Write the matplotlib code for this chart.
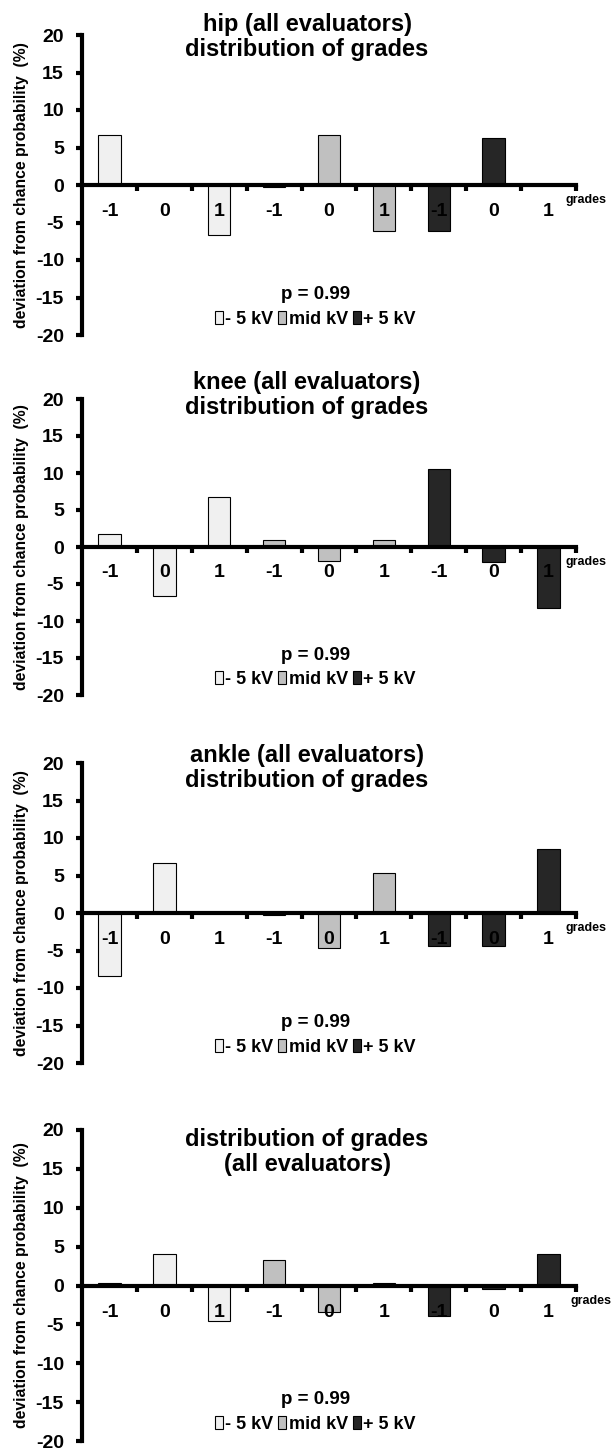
import matplotlib
matplotlib.use("Agg")
import matplotlib.pyplot as plt
import numpy as np

plt.rcParams['font.family'] = ['Liberation Sans', 'DejaVu Sans']
plt.rcParams['font.weight'] = 'bold'

grades = ["-1", "0", "1"]
series = ["- 5 kV", "mid kV", "+ 5 kV"]
colors = ["#f0f0f0", "#c0c0c0", "#262626"]

hip_minus5 = [6.7, 0.0, -6.6]
hip_mid = [-0.3, 6.7, -6.1]
hip_plus5 = [-6.1, 6.3, 0.0]

knee_minus5 = [1.7, -6.6, 6.8]
knee_mid = [1.0, -1.9, 1.0]
knee_plus5 = [10.6, -2.0, -8.3]

ankle_minus5 = [-8.4, 6.7, 0.0]
ankle_mid = [-0.3, -4.7, 5.3]
ankle_plus5 = [-4.4, -4.4, 8.5]

all_minus5 = [0.3, 4.0, -4.6]
all_mid = [3.3, -3.4, 0.3]
all_plus5 = [-3.9, -0.5, 4.0]

titles = ["hip (all evaluators)\ndistribution of grades",
          "knee (all evaluators)\ndistribution of grades",
          "ankle (all evaluators)\ndistribution of grades",
          "distribution of grades\n(all evaluators)"]
panel_data = [[hip_minus5, hip_mid, hip_plus5],
              [knee_minus5, knee_mid, knee_plus5],
              [ankle_minus5, ankle_mid, ankle_plus5],
              [all_minus5, all_mid, all_plus5]]
yticks = [20, 15, 10, 5, 0, -5, -10, -15, -20]
p_text = "p = 0.99"

W, H = 613, 1450
fig = plt.figure(figsize=(W / 100, H / 100), dpi=100)

# (top px, bottom px) of the -20..20 range per panel
panel_px = [(35, 335), (399, 695), (763, 1063), (1130, 1441)]
title_y = [19.7, 20.5, 19.3, 17.2]
grades_x = [8.3, 8.3, 8.3, 8.4]
left_px, right_px = 82, 576

for k, (top, bot) in enumerate(panel_px):
    ax = fig.add_axes([left_px / W, 1 - bot / H, (right_px - left_px) / W, (bot - top) / H])
    ax.set_xlim(-0.5, 8.5)
    ax.set_ylim(-20, 20)
    handles = []
    for s, vals in enumerate(panel_data[k]):
        x = np.arange(3) + 3 * s
        bc = ax.bar(x, vals, width=0.41, color=colors[s], edgecolor="black",
                    linewidth=0.8, zorder=3, label=series[s])
        handles.append(bc)
    for sp in ["top", "right"]:
        ax.spines[sp].set_visible(False)
    ax.spines["bottom"].set_position(("data", 0))
    ax.spines["bottom"].set_linewidth(3)
    ax.spines["left"].set_linewidth(3)
    ax.spines["bottom"].set_zorder(4)
    ax.set_yticks(yticks)
    ax.set_yticklabels([str(t) for t in yticks], fontsize=14, fontweight="bold")
    ax.tick_params(axis="y", direction="out", length=4, width=3, pad=9)
    ax.set_xticks(np.arange(0.5, 9.0, 1.0))
    ax.set_xticklabels([])
    ax.tick_params(axis="x", direction="out", length=4, width=3)
    for i in range(9):
        ax.text(i, -3.5, grades[i % 3], ha="center", va="center",
                fontsize=14, fontweight="bold", zorder=6)
    ax.text(grades_x[k], -2.0, "grades", ha="left", va="center", fontsize=9,
            fontweight="bold", clip_on=False)
    ax.text(3.6, title_y[k], titles[k], ha="center", va="center",
            fontsize=17, fontweight="bold", linespacing=1.12, clip_on=False)
    ax.set_ylabel("deviation from chance probability  (%)", fontsize=11.3,
                  fontweight="bold")
    ax.yaxis.set_label_coords(-0.108, 0.5)
    ax.text(3.75, -14.6, p_text, ha="center", va="center", fontsize=13.5,
            fontweight="bold")
    leg = ax.legend(handles=handles, loc="center", bbox_to_anchor=(3.75, -17.9),
                    bbox_transform=ax.transData, ncol=3, frameon=False,
                    handlelength=0.45, handleheight=0.75, handletextpad=0.15,
                    columnspacing=0.25, borderpad=0,
                    prop={"size": 13, "weight": "bold"})

fig.savefig("out.png", dpi=100)
